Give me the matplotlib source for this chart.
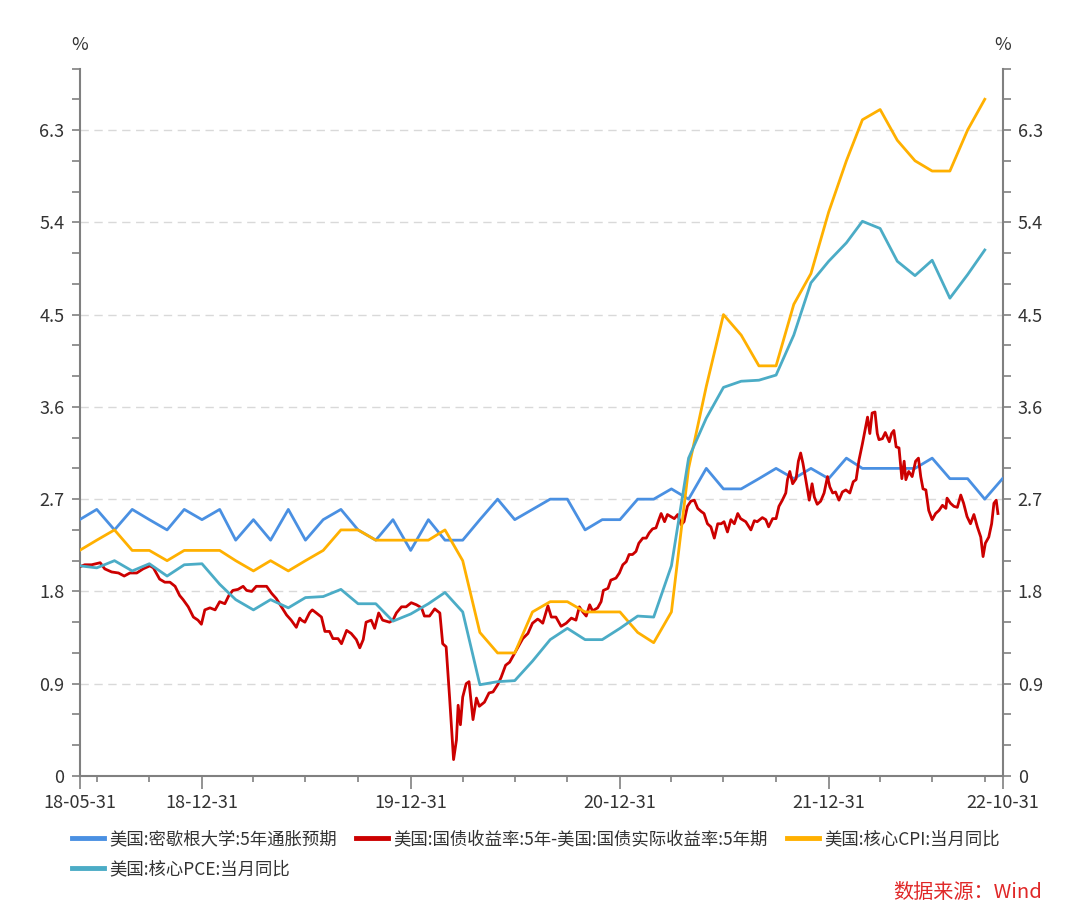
import numpy as np
import pandas as pd
import matplotlib
matplotlib.use('Agg')
import matplotlib.pyplot as plt
import matplotlib.dates as mdates
from matplotlib.ticker import FixedLocator, FixedFormatter

plt.rcParams['font.family'] = ['Noto Sans CJK SC', 'DejaVu Sans']

# ---------------- data ----------------
start_date = '2018-05-31'
end_date = '2022-10-31'

series_names = ['美国:密歇根大学:5年通胀预期',
                '美国:国债收益率:5年-美国:国债实际收益率:5年期',
                '美国:核心CPI:当月同比',
                '美国:核心PCE:当月同比']

# monthly (month-end) from 2018-05
michigan_5y = [2.5, 2.6, 2.4, 2.6, 2.5, 2.4, 2.6, 2.5,
               2.6, 2.3, 2.5, 2.3, 2.6, 2.3, 2.5, 2.6, 2.4, 2.3, 2.5, 2.2,
               2.5, 2.3, 2.3, 2.5, 2.7, 2.5, 2.6, 2.7, 2.7, 2.4, 2.5, 2.5,
               2.7, 2.7, 2.8, 2.7, 3.0, 2.8, 2.8, 2.9, 3.0, 2.9, 3.0, 2.9,
               3.1, 3.0, 3.0, 3.0, 3.0, 3.1, 2.9, 2.9, 2.7, 2.9]

core_cpi = [2.2, 2.3, 2.4, 2.2, 2.2, 2.1, 2.2, 2.2,
            2.2, 2.1, 2.0, 2.1, 2.0, 2.1, 2.2, 2.4, 2.4, 2.3, 2.3, 2.3,
            2.3, 2.4, 2.1, 1.4, 1.2, 1.2, 1.6, 1.7, 1.7, 1.6, 1.6, 1.6,
            1.4, 1.3, 1.6, 3.0, 3.8, 4.5, 4.3, 4.0, 4.0, 4.6, 4.9, 5.5,
            6.0, 6.4, 6.5, 6.2, 6.0, 5.9, 5.9, 6.3, 6.6]

core_pce = [2.05, 2.03, 2.10, 2.00, 2.07, 1.95, 2.06, 2.07,
            1.87, 1.72, 1.62, 1.72, 1.64, 1.74, 1.75, 1.82, 1.68, 1.68, 1.51, 1.58,
            1.68, 1.79, 1.60, 0.89, 0.92, 0.93, 1.12, 1.33, 1.44, 1.33, 1.33, 1.44,
            1.56, 1.55, 2.05, 3.10, 3.49, 3.79, 3.85, 3.86, 3.91, 4.30, 4.81, 5.02,
            5.20, 5.41, 5.34, 5.02, 4.88, 5.03, 4.66, 4.89, 5.13]

# daily breakeven (sampled), days after start_date
breakeven_days = [0, 9, 21, 36, 44, 56, 68, 78, 88, 100, 111, 123, 129, 140, 149, 158, 167, 175,
                  181, 190, 199, 207, 213, 219, 228, 237, 245, 254, 261, 268, 277, 286, 292, 301,
                  309, 318, 327, 336, 344, 353, 362, 370, 379, 385, 388, 394, 402, 405, 407, 414,
                  423, 429, 437, 443, 452, 458, 467, 475, 484, 490, 496, 501, 510, 516, 523, 530,
                  542, 548, 554, 563, 571, 580, 589, 598, 603, 612, 621, 630, 635, 641, 647, 654,
                  659, 662, 666, 670, 676, 681, 688, 694, 699, 708, 716, 723, 731, 737, 745, 752,
                  761, 769, 775, 784, 792, 801, 804, 810, 819, 825, 833, 842, 851, 860, 868, 874,
                  880, 886, 892, 897, 906, 912, 916, 924, 929, 938, 944, 950, 956, 961, 967, 973,
                  978, 985, 991, 996, 1002, 1008, 1013, 1017, 1023, 1028, 1034, 1040, 1046, 1052,
                  1057, 1063, 1069, 1075, 1081, 1087, 1092, 1098, 1104, 1110, 1116, 1122, 1127,
                  1133, 1139, 1145, 1151, 1156, 1165, 1174, 1180, 1185, 1194, 1200, 1205, 1212,
                  1218, 1223, 1229, 1235, 1238, 1242, 1247, 1253, 1257, 1261, 1265, 1270, 1276,
                  1281, 1285, 1290, 1296, 1302, 1308, 1312, 1317, 1322, 1328, 1334, 1340, 1347,
                  1353, 1358, 1363, 1369, 1375, 1378, 1382, 1386, 1391, 1395, 1398, 1404, 1409,
                  1416, 1420, 1424, 1428, 1433, 1438, 1442, 1445, 1450, 1456, 1462, 1467, 1471,
                  1475, 1480, 1485, 1491, 1497, 1503, 1509, 1515, 1517, 1523, 1529, 1535, 1541,
                  1546, 1552, 1558, 1564, 1570, 1576, 1580, 1584, 1590, 1595, 1599, 1603, 1606]
breakeven_vals = [2.04, 2.06, 2.06, 2.08, 2.02, 1.99, 1.98, 1.95, 1.98, 1.98, 2.02, 2.05, 2.03, 1.92,
                  1.89, 1.89, 1.85, 1.76, 1.72, 1.65, 1.55, 1.52, 1.48, 1.62, 1.64, 1.62, 1.70, 1.68,
                  1.76, 1.81, 1.82, 1.85, 1.81, 1.80, 1.85, 1.85, 1.85, 1.78, 1.73, 1.65, 1.57, 1.52,
                  1.45, 1.54, 1.52, 1.50, 1.59, 1.61, 1.62, 1.59, 1.55, 1.41, 1.41, 1.34, 1.34, 1.29,
                  1.42, 1.39, 1.33, 1.25, 1.33, 1.50, 1.52, 1.44, 1.59, 1.52, 1.50, 1.52, 1.59, 1.65,
                  1.65, 1.69, 1.67, 1.64, 1.56, 1.56, 1.63, 1.59, 1.29, 1.26, 0.77, 0.16, 0.35, 0.69,
                  0.50, 0.77, 0.90, 0.92, 0.55, 0.76, 0.68, 0.72, 0.81, 0.82, 0.89, 0.96, 1.08, 1.11,
                  1.20, 1.28, 1.34, 1.39, 1.49, 1.53, 1.52, 1.49, 1.66, 1.55, 1.55, 1.46, 1.49, 1.54,
                  1.52, 1.65, 1.60, 1.56, 1.67, 1.61, 1.64, 1.70, 1.81, 1.83, 1.91, 1.93, 1.98, 2.06,
                  2.09, 2.16, 2.16, 2.19, 2.27, 2.32, 2.32, 2.37, 2.41, 2.42, 2.50, 2.56, 2.48, 2.55,
                  2.53, 2.51, 2.55, 2.45, 2.48, 2.63, 2.68, 2.69, 2.61, 2.58, 2.56, 2.46, 2.43, 2.32,
                  2.46, 2.46, 2.48, 2.38, 2.50, 2.46, 2.56, 2.51, 2.48, 2.40, 2.49, 2.48, 2.52, 2.50,
                  2.43, 2.51, 2.51, 2.63, 2.69, 2.76, 2.89, 2.97, 2.85, 2.90, 3.07, 3.15, 3.05, 2.89,
                  2.69, 2.85, 2.72, 2.65, 2.68, 2.76, 2.92, 2.82, 2.76, 2.77, 2.69, 2.77, 2.79, 2.76,
                  2.87, 2.89, 3.08, 3.24, 3.41, 3.50, 3.34, 3.54, 3.55, 3.34, 3.28, 3.29, 3.35, 3.26,
                  3.34, 3.37, 3.21, 3.20, 2.90, 3.07, 2.89, 2.97, 2.92, 3.07, 3.10, 2.92, 2.80, 2.79,
                  2.59, 2.50, 2.56, 2.59, 2.64, 2.61, 2.71, 2.66, 2.63, 2.62, 2.74, 2.66, 2.53, 2.46,
                  2.55, 2.43, 2.33, 2.14, 2.27, 2.33, 2.46, 2.66, 2.69, 2.56]

x_label_dates = ['2018-05-31', '2018-12-31', '2019-12-31', '2020-12-31', '2021-12-31', '2022-10-31']
x_labels = ['18-05-31', '18-12-31', '19-12-31', '20-12-31', '21-12-31', '22-10-31']
y_ticks = [0, 0.9, 1.8, 2.7, 3.6, 4.5, 5.4, 6.3]
y_labels = ['0', '0.9', '1.8', '2.7', '3.6', '4.5', '5.4', '6.3']

colors = ['#4a90e2', '#cc0000', '#ffb000', '#4bacc6']

# ---------------- figure ----------------
W, H = 1080, 918
fig = plt.figure(figsize=(W / 100, H / 100), dpi=100)
left, right, bottom, top = 79.6, 1002.5, 776, 68.5
ax = fig.add_axes([left / W, 1 - bottom / H, (right - left) / W, (bottom - top) / H])

t0 = pd.Timestamp(start_date)
month_dates = pd.date_range(t0, periods=len(michigan_5y), freq=pd.offsets.MonthEnd())
be_dates = t0 + pd.to_timedelta(breakeven_days, unit='D')

lw = 2.0
h1, = ax.plot(month_dates, michigan_5y, color=colors[0], lw=lw, label=series_names[0], zorder=3)
h2, = ax.plot(be_dates, breakeven_vals, color=colors[1], lw=lw, label=series_names[1], zorder=4)
h3, = ax.plot(month_dates[:len(core_cpi)], core_cpi, color=colors[2], lw=lw, label=series_names[2], zorder=5)
h4, = ax.plot(month_dates[:len(core_pce)], core_pce, color=colors[3], lw=lw, label=series_names[3], zorder=6)

ax.set_xlim(pd.Timestamp(start_date), pd.Timestamp(end_date))
ax.set_ylim(0, 6.9)

# y axis ticks on both sides
ax.yaxis.set_major_locator(FixedLocator(y_ticks))
ax.yaxis.set_major_formatter(FixedFormatter(y_labels))
ax.yaxis.set_minor_locator(FixedLocator([v for v in np.arange(0, 6.95, 0.3) if all(abs(v - t) > 1e-6 for t in y_ticks)]))
ax.tick_params(axis='y', which='both', left=True, right=True, labelleft=True, labelright=True,
               direction='out', length=6, width=1.2, color='#808080', labelsize=13,
               labelcolor='#333333', pad=5)

# x axis ticks
major_dates = [mdates.date2num(pd.Timestamp(d)) for d in x_label_dates]
quarter_ends = pd.date_range('2018-06-30', '2022-09-30', freq=pd.offsets.QuarterEnd())
minor_dates = [mdates.date2num(d) for d in quarter_ends if d.strftime('%Y-%m-%d') not in x_label_dates]
ax.xaxis.set_major_locator(FixedLocator(major_dates))
ax.xaxis.set_major_formatter(FixedFormatter(x_labels))
ax.xaxis.set_minor_locator(FixedLocator(minor_dates))
ax.tick_params(axis='x', which='major', direction='out', length=9, width=1.2, color='#808080',
               labelsize=13, labelcolor='#333333', pad=4)
ax.tick_params(axis='x', which='minor', direction='out', length=4.5, width=1.2, color='#808080')

for s in ['left', 'right', 'bottom']:
    ax.spines[s].set_color('#808080')
    ax.spines[s].set_linewidth(1.5)
ax.spines['top'].set_visible(False)

for v in y_ticks[1:]:
    ax.axhline(v, color='#d9d9d9', lw=1.0, dashes=(6, 4), zorder=1)

fig.text(left / W, 1 - 45 / H, '%', ha='center', va='center', fontsize=13, color='#333333')
fig.text(right / W, 1 - 45 / H, '%', ha='center', va='center', fontsize=13, color='#333333')

# column-major fill: [h1, h4] | [h2] | [h3]
leg = fig.legend([h1, h4, h2, h3], [series_names[0], series_names[3], series_names[1], series_names[2]],
                 loc='upper left', bbox_to_anchor=(72 / W, 1 - 830 / H), ncol=3, frameon=False,
                 fontsize=12.5, handlelength=1.85, handletextpad=0.3, columnspacing=1.1,
                 labelspacing=0.7, borderpad=0, borderaxespad=0)
for line in leg.get_lines():
    line.set_linewidth(3.5)
for t in leg.get_texts():
    t.set_color('#333333')

fig.text(1042 / W, 1 - 893 / H, '数据来源：Wind', ha='right', va='center', fontsize=14.5, color='#e02828')

fig.savefig('out.png', dpi=100)
